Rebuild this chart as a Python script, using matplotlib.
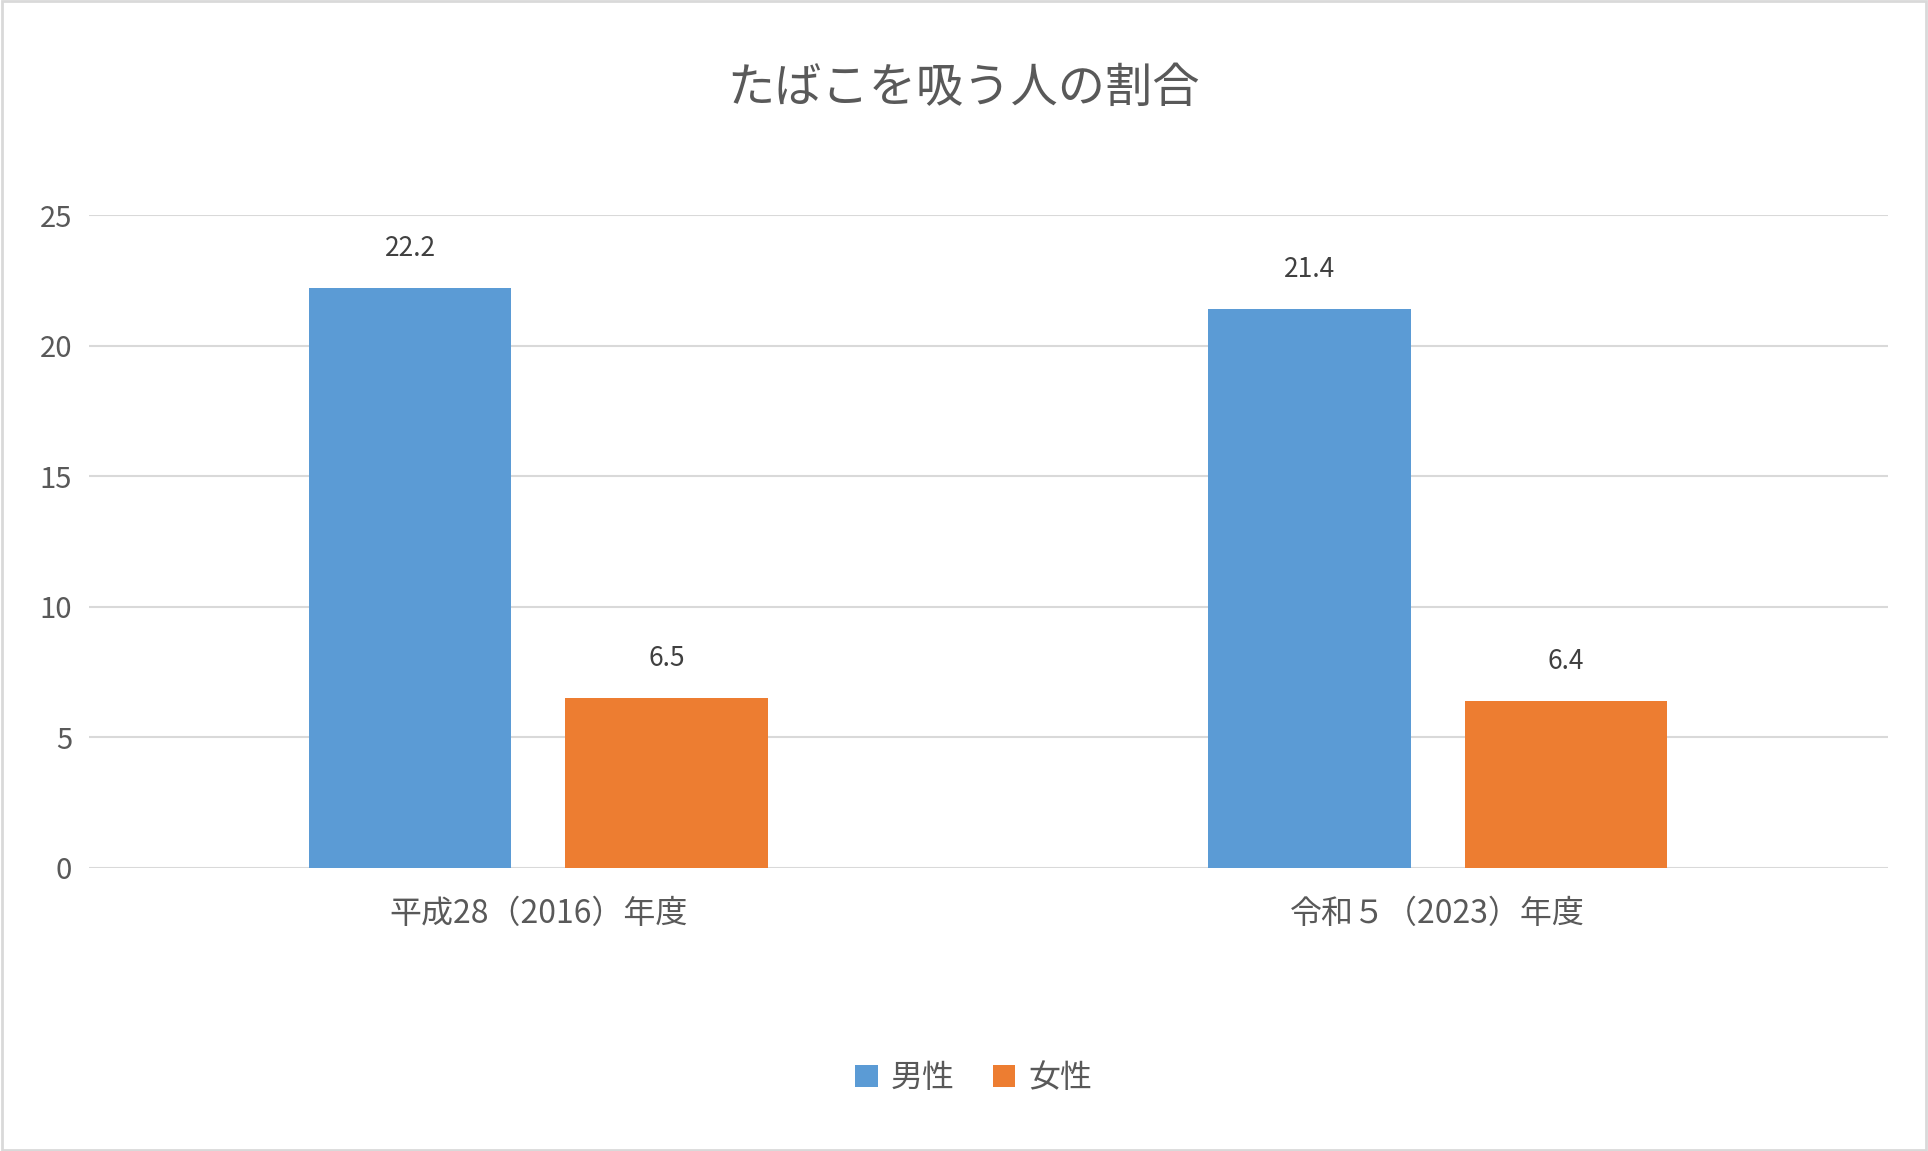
import matplotlib.pyplot as plt
import numpy as np

plt.rcParams['font.family'] = 'Noto Sans CJK JP'

categories = ['平成28（2016）年度', '令和５（2023）年度']
men = [22.2, 21.4]
women = [6.5, 6.4]

fig = plt.figure(figsize=(19.28, 11.51), dpi=100)
ax = fig.add_axes([0.046, 0.246, 0.933, 0.567])

x = np.arange(len(categories)) + 0.5
w = 0.225
b1 = ax.bar(x - 0.1425, men, w, color='#5b9bd5', label='男性')
b2 = ax.bar(x + 0.1425, women, w, color='#ed7d31', label='女性')
for bars in (b1, b2):
    for r in bars:
        ax.text(r.get_x() + r.get_width() / 2, r.get_height() + 1.0, f'{r.get_height():.1f}',
                ha='center', va='bottom', fontsize=19, color='#404040')

ax.set_xlim(0, 2)
ax.set_ylim(0, 25)
ax.set_yticks(range(0, 26, 5))
ax.set_xticks(x)
ax.set_xticklabels(categories)
ax.tick_params(axis='x', length=0, labelsize=23, labelcolor='#595959', pad=22)
ax.tick_params(axis='y', length=0, labelsize=21, labelcolor='#595959', pad=12)
ax.grid(axis='y', color='#d9d9d9', linewidth=1.5)
ax.set_axisbelow(True)
for s in ax.spines.values():
    s.set_visible(False)

fig.text(0.5, 0.923, 'たばこを吸う人の割合', ha='center', va='center', fontsize=34, color='#595959')
fig.legend(loc='center', bbox_to_anchor=(0.505, 0.063), ncol=2, frameon=False,
           fontsize=23, handlelength=0.7, handleheight=0.7, columnspacing=1.2,
           handletextpad=0.4, labelcolor='#595959')

fig.patches.append(plt.Rectangle((0.001, 0.001), 0.998, 0.998, transform=fig.transFigure,
                                 fill=False, edgecolor='#d9d9d9', linewidth=2))
fig.savefig('out.png')
